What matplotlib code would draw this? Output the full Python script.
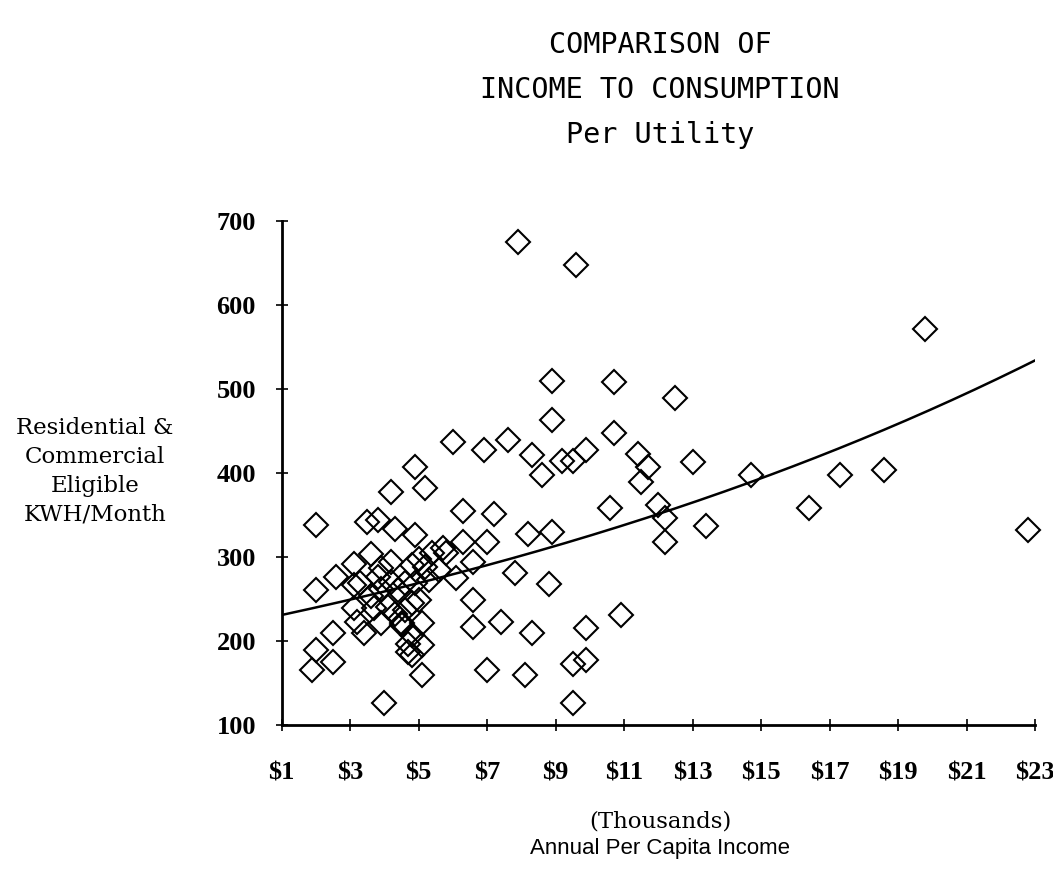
import numpy as np
import matplotlib.pyplot as plt

# Ingreso per capita anual (miles de $) y consumo KWH/mes por empresa
income = [2.0, 2.0, 2.6, 3.1, 3.6, 4.2, 3.3, 3.8, 4.8, 5.0, 5.7, 6.3, 7.0, 6.6,
          5.6, 6.1, 4.9, 4.4, 3.1, 3.7, 4.1, 4.8, 3.2, 3.4, 3.9, 4.5, 5.1, 4.7,
          4.8, 5.1, 4.0, 6.6, 6.6, 7.4, 8.3, 7.0, 8.1, 1.9, 2.0, 2.5, 2.5, 4.2,
          5.2, 3.5, 3.8, 4.3, 4.9, 6.3, 7.2, 8.2, 8.9, 7.8, 8.8, 4.9, 6.0, 6.9,
          7.6, 8.3, 8.6, 8.9, 8.9, 7.9, 9.6, 10.7, 12.5, 10.7, 9.2, 9.5, 9.9,
          11.4, 11.7, 11.5, 13.0, 14.7, 10.6, 12.0, 12.2, 13.4, 12.2, 9.9, 10.9,
          9.5, 9.9, 9.5, 17.3, 18.6, 16.4, 22.8, 19.8,
          5.4, 5.2, 5.3, 5.0, 4.6, 4.5, 4.8, 4.7, 5.1, 3.6, 3.9, 4.3, 4.6, 3.9,
          4.2, 5.8, 3.1]
kwh = [338, 261, 276, 292, 304, 294, 269, 276, 290, 298, 311, 318, 318, 294,
       285, 275, 269, 261, 239, 239, 241, 245, 223, 209, 221, 221, 221, 197,
       183, 160, 126, 249, 217, 223, 209, 165, 160, 165, 189, 209, 175, 378,
       382, 342, 344, 334, 326, 355, 351, 328, 330, 281, 268, 407, 437, 427,
       439, 421, 398, 463, 510, 675, 648, 508, 489, 448, 415, 415, 427,
       423, 407, 390, 413, 398, 358, 362, 346, 337, 318, 215, 231,
       173, 177, 126, 398, 404, 359, 332, 572,
       305, 288, 273, 249, 269, 219, 207, 187, 195, 254, 262, 232, 237, 287,
       270, 305, 267]

# curva de tendencia exponencial y = a*exp(b*x)
trend_a = 222.4
trend_b = 0.0381

xticks = np.arange(1, 24, 2)
xlabels = ['$' + str(t) for t in xticks]
yticks = np.arange(100, 701, 100)

fig = plt.figure(figsize=(10.53, 8.71), dpi=100)
ax = fig.add_axes([0.2675, 0.1676, 0.9829 - 0.2675, 0.746 - 0.1676])

ax.plot(income, kwh, linestyle='none', marker='D', markersize=12.5,
        markerfacecolor='none', markeredgecolor='black', markeredgewidth=1.5,
        clip_on=False)

xs = np.linspace(1, 23, 200)
ax.plot(xs, trend_a * np.exp(trend_b * xs), color='black', linewidth=1.8)

ax.set_xlim(1, 23)
ax.set_ylim(100, 700)
ax.spines['top'].set_visible(False)
ax.spines['right'].set_visible(False)
ax.spines['left'].set_linewidth(2)
ax.spines['bottom'].set_linewidth(2)

ax.set_xticks(xticks)
ax.set_xticklabels(xlabels, family='Liberation Serif', fontsize=19, fontweight='bold')
ax.set_yticks(yticks)
ax.set_yticklabels([str(t) for t in yticks], family='Liberation Serif', fontsize=19,
                   fontweight='bold')
ax.tick_params(axis='both', direction='inout', length=9, width=1.2)
ax.tick_params(axis='x', pad=22)
ax.tick_params(axis='y', pad=14)

fig.text(0.627, 0.948, 'COMPARISON OF', ha='center', va='center',
         family='DejaVu Sans Mono', fontsize=20.5)
fig.text(0.627, 0.897, 'INCOME TO CONSUMPTION', ha='center', va='center',
         family='DejaVu Sans Mono', fontsize=20.5)
fig.text(0.627, 0.845, 'Per Utility', ha='center', va='center',
         family='DejaVu Sans Mono', fontsize=20.5)

fig.text(0.09, 0.459, 'Residential &\nCommercial\nEligible\nKWH/Month', ha='center',
         va='center', family='DejaVu Serif', fontsize=16.5, linespacing=1.4)

fig.text(0.627, 0.057, '(Thousands)', ha='center', va='center',
         family='DejaVu Serif', fontsize=16.5)
fig.text(0.627, 0.026, 'Annual Per Capita Income', ha='center', va='center',
         family='Liberation Sans', fontsize=16)

fig.savefig('out.png', dpi=100)
